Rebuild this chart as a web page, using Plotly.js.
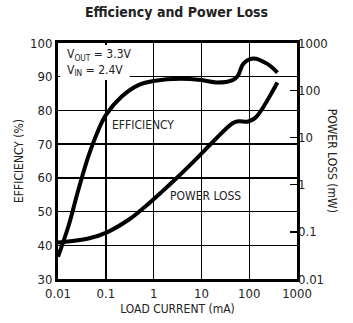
<!DOCTYPE html>
<html><head><meta charset="utf-8">
<script src="https://cdn.plot.ly/plotly-3.0.1.min.js"></script>
<style>html,body{margin:0;padding:0;background:#fff}#c{width:353px;height:323px}</style>
</head><body><div id="c"></div>
<script>
var effCurrent = [0.01, 0.0164, 0.0266, 0.043, 0.07, 0.1, 0.215, 0.48, 1.07, 3.6, 10, 21, 45, 58, 75, 120, 240, 390];
var effValue   = [36.6, 45.5, 56.4, 66.3, 74.2, 78.6, 84.1, 87.5, 88.8, 89.4, 89.0, 88.3, 89.0, 90.3, 93.8, 95.4, 93.8, 91.2];
var lossCurrent = [0.01, 0.043, 0.1, 0.3, 0.66, 1.5, 3.0, 8, 19, 45, 60, 90, 110, 140, 200, 280, 390];
var lossValue   = [0.059, 0.072, 0.095, 0.18, 0.34, 0.71, 1.36, 3.6, 8.8, 20, 22, 21.5, 23, 27, 45, 80, 145];
var xTicks = [0.01, 0.1, 1, 10, 100, 1000];
var xTickText = ['0.01', '0.1', '1', '10', '100', '1000'];
var lossTicks = [0.01, 0.1, 1, 10, 100, 1000];
var lossTickText = ['0.01', '0.1', '1', '10', '100', '1000'];

var F = '"Liberation Sans Narrow", "DejaVu Sans Condensed", "Arial Narrow", sans-serif';
var traces = [
  {x: effCurrent, y: effValue, type: 'scatter', mode: 'lines', line: {color: '#000', width: 4, shape: 'spline'}, yaxis: 'y', hoverinfo: 'skip'},
  {x: lossCurrent, y: lossValue, type: 'scatter', mode: 'lines', line: {color: '#000', width: 4, shape: 'spline'}, yaxis: 'y2', hoverinfo: 'skip'}
];
var layout = {
  width: 353, height: 323,
  margin: {l: 58, r: 56, t: 43, b: 44},
  paper_bgcolor: '#fff', plot_bgcolor: '#fff',
  showlegend: false,
  font: {family: F, size: 13, color: '#222'},
  title: {text: '<b>Efficiency and Power Loss</b>', x: 0.5, xanchor: 'center', y: 0.963, yanchor: 'middle', font: {family: F, size: 14, color: '#222'}},
  xaxis: {type: 'log', range: [-2, 3], tickvals: xTicks, ticktext: xTickText, showgrid: true, gridcolor: '#000', gridwidth: 1.4,
          showline: true, linecolor: '#000', linewidth: 3, mirror: true, ticks: '', zeroline: false,
          title: {text: 'LOAD CURRENT (mA)', font: {family: F, size: 12, color: '#222'}, standoff: 6}},
  yaxis: {range: [30, 100], dtick: 10, showgrid: true, gridcolor: '#000', gridwidth: 1.4,
          showline: true, linecolor: '#000', linewidth: 3, mirror: true, ticks: '', zeroline: false,
          title: {text: 'EFFICIENCY (%)', font: {family: F, size: 12, color: '#222'}, standoff: 4}},
  yaxis2: {type: 'log', range: [-2, 3], overlaying: 'y', side: 'right', tickvals: lossTicks, ticktext: lossTickText,
           showgrid: false, ticks: 'inside', ticklen: 7, tickwidth: 1.4, tickcolor: '#000', zeroline: false, showline: false},
  shapes: [
    {type: 'rect', xref: 'paper', yref: 'paper', x0: 0.009, x1: 0.30, y0: 0.843, y1: 0.991, fillcolor: '#fff', line: {width: 0}, layer: 'above'}
  ],
  annotations: [
    {xref: 'paper', yref: 'paper', x: 0.03, y: 0.99, xanchor: 'left', yanchor: 'top', align: 'left', showarrow: false,
     text: 'V<sub>OUT</sub> = 3.3V<br>V<sub>IN</sub> = 2.4V', font: {family: F, size: 12, color: '#222'}},
    {xref: 'x', yref: 'y', x: Math.log10(0.6), y: 75.7, showarrow: false, text: 'EFFICIENCY', font: {family: F, size: 12, color: '#222'}},
    {xref: 'x', yref: 'y', x: Math.log10(12), y: 54.6, showarrow: false, text: 'POWER LOSS', font: {family: F, size: 12, color: '#222'}},
    {xref: 'paper', yref: 'paper', x: 1.148, xanchor: 'center', y: 0.5, showarrow: false, textangle: 90, text: 'POWER LOSS (mW)', font: {family: F, size: 12, color: '#222'}}
  ]
};
Plotly.newPlot('c', traces, layout, {staticPlot: true, displayModeBar: false});
</script></body></html>
